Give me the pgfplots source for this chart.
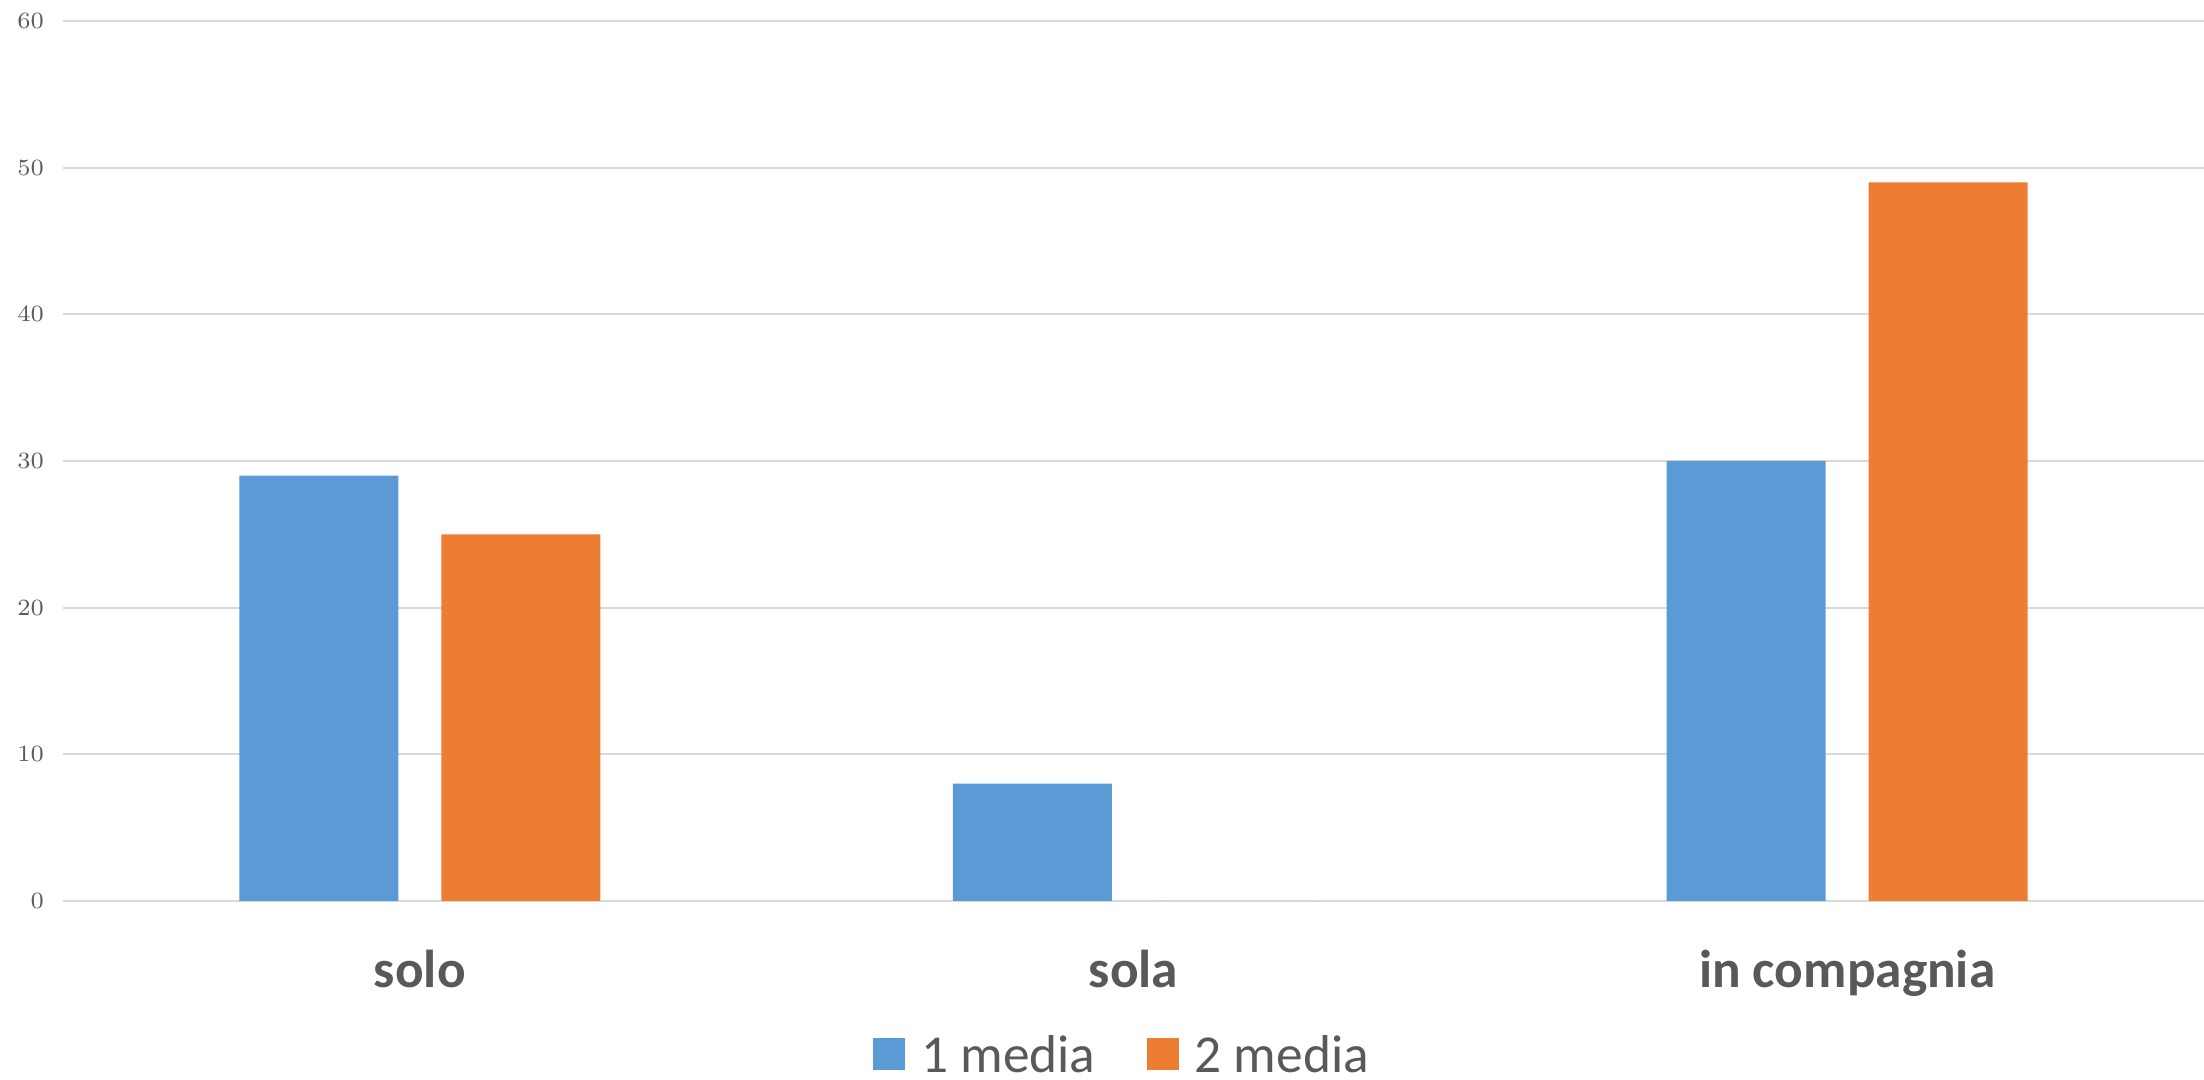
\documentclass[border=0pt]{standalone}
\usepackage{fontspec}
\setmainfont{Carlito}
\usepackage{pgfplots}
\pgfplotsset{compat=1.18}
\definecolor{cblue}{HTML}{5B9BD5}
\definecolor{corange}{HTML}{ED7D31}
\definecolor{cgrid}{HTML}{D9D9D9}
\definecolor{ctext}{HTML}{595959}
\begin{document}
\begin{tikzpicture}
\begin{axis}[
  scale only axis, width=642.3pt, height=264pt,
  xmin=-0.5, xmax=2.5, ymin=0, ymax=60,
  ytick={0,10,...,60},
  xtick={0,1,2}, xticklabels={solo,sola,in compagnia},
  ymajorgrids, grid style={cgrid, line width=0.6pt},
  axis line style={draw=none},
  major tick length=0pt,
  yticklabel style={font=\fontsize{7}{8}\selectfont, text=ctext, xshift=-2.2pt},
  xticklabel style={font=\fontsize{16}{18}\selectfont\bfseries, text=ctext, anchor=base, yshift=-26.1pt},
  legend columns=2,
  legend style={draw=none, fill=none, at={(0.495,0)}, anchor=center, yshift=-45.8pt,
    font=\fontsize{16}{18}\selectfont, text=ctext, inner sep=0pt,
    nodes={inner sep=1pt, text depth=0pt},
    /tikz/every odd column/.append style={column sep=3.8pt},
    /tikz/every even column/.append style={column sep=14.4pt}},
  legend image code/.code={\fill[#1] (0pt,-4.8pt) rectangle (9.6pt,4.8pt);},
]
\addplot[ybar, fill=cblue, draw=none, bar width=0.2228, bar shift=-0.1416] coordinates {(0,29) (1,8) (2,30)};
\addlegendentry{1 media}
\addplot[ybar, fill=corange, draw=none, bar width=0.2228, bar shift=0.1416] coordinates {(0,25) (1,0) (2,49)};
\addlegendentry{2 media}
\end{axis}
\pgfresetboundingbox
\path ([shift={(-18.9pt,-53.7pt)}]current axis.south west) rectangle ([shift={(0pt,6.3pt)}]current axis.north east);
\end{tikzpicture}
\end{document}
